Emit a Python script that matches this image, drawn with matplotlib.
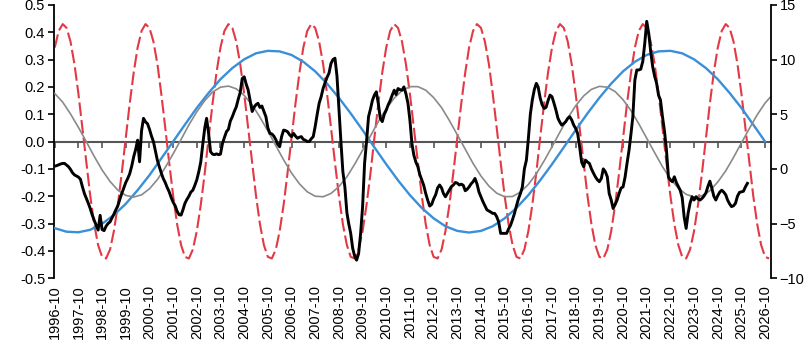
import matplotlib
matplotlib.use('Agg')
import matplotlib.pyplot as plt
import matplotlib.dates as mdates
from matplotlib.ticker import FormatStrFormatter
import pandas as pd

plt.rcParams['font.family'] = ['Liberation Sans', 'DejaVu Sans']

# short cycle (red dashed), one value every 2 months from 1996-10
red_vals = [
    0.344, 0.405, 0.430, 0.416, 0.366, 0.283, 0.175, 0.051, -0.077, -0.198, -0.302, -0.379, -0.422, -0.428, -0.395, -0.328, -0.232, -0.114, 0.013, 0.139, 0.253,
    0.344, 0.405, 0.430, 0.416, 0.366, 0.283, 0.175, 0.051, -0.077, -0.198, -0.302, -0.379, -0.422, -0.428, -0.395, -0.328, -0.232, -0.114, 0.013, 0.139, 0.253,
    0.344, 0.405, 0.430, 0.416, 0.366, 0.283, 0.175, 0.051, -0.077, -0.198, -0.302, -0.379, -0.422, -0.428, -0.395, -0.328, -0.232, -0.114, 0.013, 0.139, 0.253,
    0.344, 0.405, 0.430, 0.416, 0.366, 0.283, 0.175, 0.051, -0.077, -0.198, -0.302, -0.379, -0.422, -0.428, -0.395, -0.328, -0.232, -0.114, 0.013, 0.139, 0.253,
    0.344, 0.405, 0.430, 0.416, 0.366, 0.283, 0.175, 0.051, -0.077, -0.198, -0.302, -0.379, -0.422, -0.428, -0.395, -0.328, -0.232, -0.114, 0.013, 0.139, 0.253,
    0.344, 0.405, 0.430, 0.416, 0.366, 0.283, 0.175, 0.051, -0.077, -0.198, -0.302, -0.379, -0.422, -0.428, -0.395, -0.328, -0.232, -0.114, 0.013, 0.139, 0.253,
    0.344, 0.405, 0.430, 0.416, 0.366, 0.283, 0.175, 0.051, -0.077, -0.198, -0.302, -0.379, -0.422, -0.428, -0.395, -0.328, -0.232, -0.114, 0.013, 0.139, 0.253,
    0.344, 0.405, 0.430, 0.416, 0.366, 0.283, 0.175, 0.051, -0.077, -0.198, -0.302, -0.379, -0.422, -0.428, -0.395, -0.328, -0.232, -0.114, 0.013, 0.139, 0.253,
    0.344, 0.405, 0.430, 0.416, 0.366, 0.283, 0.175, 0.051, -0.077, -0.198, -0.302, -0.379, -0.422, -0.428,
]

# long cycle (blue), one value every 6 months from 1996-10
blue_vals = [
    -0.317, -0.330, -0.332, -0.323, -0.301, -0.269, -0.228, -0.178, -0.123, -0.062,
    0.000, 0.062, 0.123, 0.178, 0.228, 0.269, 0.301, 0.323, 0.332, 0.330,
    0.317, 0.292, 0.257, 0.212, 0.160, 0.103, 0.042, -0.021, -0.083, -0.142,
    -0.196, -0.243, -0.281, -0.310, -0.327, -0.333, -0.327, -0.310, -0.281, -0.243,
    -0.196, -0.142, -0.083, -0.021, 0.042, 0.103, 0.160, 0.212, 0.257, 0.292,
    0.317, 0.330, 0.332, 0.323, 0.301, 0.269, 0.228, 0.178, 0.123, 0.062,
    0.000,
]

# medium cycle (gray), one value every 4 months from 1996-10
gray_vals = [
    0.176, 0.144, 0.101, 0.052, -0.001, -0.054, -0.104, -0.146, -0.178, -0.197,
    -0.203, -0.195, -0.173, -0.139, -0.095, -0.045, 0.008, 0.061, 0.109, 0.150,
    0.181, 0.199, 0.203, 0.193, 0.169, 0.134, 0.089, 0.039, -0.015, -0.067,
    -0.115, -0.155, -0.184, -0.200, -0.202, -0.190, -0.165, -0.129, -0.083, -0.032,
    0.021, 0.073, 0.120, 0.159, 0.186, 0.201, 0.201, 0.188, 0.161, 0.124,
    0.077, 0.025, -0.028, -0.080, -0.126, -0.163, -0.189, -0.202, -0.201, -0.185,
    -0.157, -0.118, -0.071, -0.019, 0.035, 0.086, 0.131, 0.167, 0.191, 0.202,
    0.199, 0.183, 0.153, 0.113, 0.065, 0.012, -0.041, -0.092, -0.136, -0.171,
    -0.193, -0.203, -0.198, -0.180, -0.148, -0.107, -0.058, -0.005, 0.048, 0.098,
    0.141, 0.174,
]

# actual series (black), monthly from 1996-10
black_vals = [
    -0.090, -0.088, -0.085, -0.082, -0.080, -0.080, -0.086, -0.092, -0.102, -0.114, -0.122, -0.126,
    -0.130, -0.138, -0.165, -0.190, -0.208, -0.225, -0.245, -0.268, -0.288, -0.306, -0.324, -0.270,
    -0.322, -0.326, -0.310, -0.300, -0.294, -0.280, -0.266, -0.250, -0.235, -0.212, -0.190, -0.170,
    -0.150, -0.135, -0.118, -0.090, -0.055, -0.030, 0.005, -0.074, 0.040, 0.085, 0.072, 0.065,
    0.045, 0.020, 0.000, -0.035, -0.070, -0.092, -0.115, -0.135, -0.150, -0.168, -0.184, -0.205,
    -0.222, -0.235, -0.255, -0.268, -0.269, -0.250, -0.226, -0.212, -0.200, -0.185, -0.178, -0.160,
    -0.140, -0.110, -0.075, -0.010, 0.050, 0.085, 0.030, -0.037, -0.046, -0.048, -0.045, -0.048,
    -0.046, -0.007, 0.015, 0.036, 0.045, 0.075, 0.091, 0.110, 0.127, 0.155, 0.180, 0.231,
    0.237, 0.210, 0.189, 0.150, 0.110, 0.125, 0.135, 0.140, 0.125, 0.130, 0.110, 0.091,
    0.050, 0.030, 0.028, 0.020, 0.007, -0.010, -0.019, 0.018, 0.042, 0.040, 0.036, 0.025,
    0.018, 0.030, 0.020, 0.012, 0.016, 0.018, 0.008, 0.005, 0.000, 0.000, 0.010, 0.018,
    0.055, 0.100, 0.140, 0.164, 0.195, 0.215, 0.235, 0.250, 0.286, 0.300, 0.305, 0.240,
    0.120, 0.000, -0.110, -0.166, -0.260, -0.300, -0.336, -0.390, -0.420, -0.434, -0.410, -0.336,
    -0.240, -0.080, 0.000, 0.091, 0.120, 0.150, 0.170, 0.182, 0.139, 0.085, 0.073, 0.100,
    0.115, 0.135, 0.150, 0.170, 0.188, 0.172, 0.194, 0.190, 0.188, 0.200, 0.175, 0.140,
    0.079, -0.007, -0.050, -0.075, -0.092, -0.120, -0.140, -0.160, -0.190, -0.214, -0.236, -0.230,
    -0.210, -0.195, -0.170, -0.159, -0.170, -0.190, -0.202, -0.190, -0.178, -0.165, -0.159, -0.150,
    -0.152, -0.159, -0.156, -0.160, -0.180, -0.175, -0.166, -0.155, -0.147, -0.135, -0.155, -0.185,
    -0.202, -0.220, -0.235, -0.250, -0.254, -0.258, -0.263, -0.263, -0.275, -0.294, -0.336, -0.336,
    -0.336, -0.336, -0.320, -0.306, -0.285, -0.263, -0.235, -0.210, -0.190, -0.166, -0.100, -0.068,
    0.010, 0.100, 0.152, 0.190, 0.213, 0.200, 0.160, 0.135, 0.121, 0.125, 0.150, 0.170,
    0.164, 0.140, 0.115, 0.085, 0.070, 0.060, 0.066, 0.073, 0.085, 0.091, 0.079, 0.060,
    0.048, 0.029, -0.019, -0.075, -0.092, -0.068, -0.075, -0.080, -0.100, -0.115, -0.129, -0.140,
    -0.147, -0.135, -0.100, -0.110, -0.129, -0.190, -0.214, -0.245, -0.230, -0.214, -0.190, -0.170,
    -0.166, -0.130, -0.080, -0.032, 0.030, 0.091, 0.225, 0.262, 0.262, 0.265, 0.293, 0.360,
    0.440, 0.396, 0.330, 0.274, 0.238, 0.215, 0.170, 0.152, 0.091, 0.040, -0.030, -0.130,
    -0.141, -0.147, -0.129, -0.150, -0.165, -0.178, -0.205, -0.275, -0.318, -0.263, -0.225, -0.202,
    -0.214, -0.202, -0.210, -0.214, -0.208, -0.200, -0.188, -0.165, -0.145, -0.170, -0.200, -0.214,
    -0.198, -0.185, -0.178, -0.185, -0.195, -0.214, -0.228, -0.238, -0.235, -0.226, -0.200, -0.186,
    -0.184, -0.182, -0.166, -0.153,
]

start = '1996-10-01'
left_ticks = [-0.5, -0.4, -0.3, -0.2, -0.1, 0.0, 0.1, 0.2, 0.3, 0.4, 0.5]
right_ticks = [-10, -5, 0, 5, 10, 15]
year_ticks = pd.date_range('1996-10-01', '2026-10-01', freq='12MS')
year_labels = [d.strftime('%Y-%m') for d in year_ticks]

red_dates = pd.date_range(start, periods=len(red_vals), freq='2MS')
blue_dates = pd.date_range(start, periods=len(blue_vals), freq='6MS')
gray_dates = pd.date_range(start, periods=len(gray_vals), freq='4MS')
black_dates = pd.date_range(start, periods=len(black_vals), freq='MS')

fig, ax = plt.subplots(figsize=(8.11, 3.53), dpi=100)
fig.subplots_adjust(left=0.066, right=0.951, top=0.986, bottom=0.212)

ax.plot(red_dates, red_vals, color='#e23a45', lw=1.5, dashes=(6.5, 2), zorder=2)
ax.plot(blue_dates, blue_vals, color='#3a8fd9', lw=1.7, zorder=3)
ax.plot(gray_dates, gray_vals, color='#8a8a8a', lw=1.2, zorder=3)
ax.plot(black_dates, black_vals, color='black', lw=2.1, zorder=4)

ax.set_xlim(pd.Timestamp('1996-09-12'), pd.Timestamp('2027-01-04'))
ax.set_ylim(-0.5, 0.5)
ax.set_yticks(left_ticks)
ax.yaxis.set_major_formatter(FormatStrFormatter('%.1f'))

# zero line carries the year ticks, labels sit at the bottom
ax.spines['top'].set_visible(False)
ax.spines['right'].set_visible(False)
ax.spines['bottom'].set_position(('data', 0))
ax.spines['bottom'].set_color('#555555')
ax.spines['bottom'].set_linewidth(1.5)
ax.spines['bottom'].set_zorder(1)
ax.spines['left'].set_linewidth(1.3)
ax.set_xticks(year_ticks)
ax.tick_params(axis='x', direction='out', length=4, width=1.2, color='#555555', labelbottom=False)
ax.tick_params(axis='y', direction='out', length=4, width=1.2, labelsize=10.5, pad=2)

sec = ax.secondary_xaxis('bottom')
sec.spines['bottom'].set_visible(False)
sec.set_xticks(year_ticks, year_labels)
sec.tick_params(axis='x', length=0, labelsize=10.5, rotation=90, pad=5)

ax2 = ax.twinx()
ax2.set_ylim(-10, 15)
ax2.set_yticks(right_ticks)
for s in ['top', 'left', 'bottom']:
    ax2.spines[s].set_visible(False)
ax2.spines['right'].set_linewidth(1.3)
ax2.tick_params(axis='y', direction='out', length=4, width=1.2, labelsize=10.5, pad=2)

fig.savefig('out.png', dpi=100)
